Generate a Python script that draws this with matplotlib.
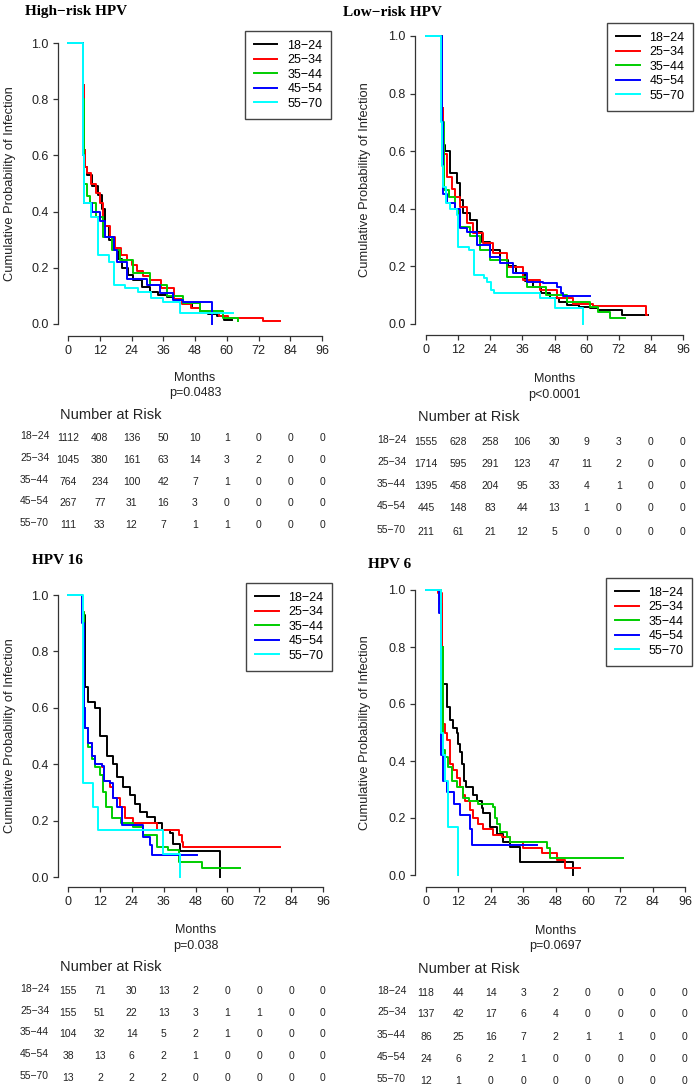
"""
    Kaplan-Meier curves of HPV infection by age group, 4 panels + number-at-risk tables
"""
import matplotlib
matplotlib.use('Agg')
import matplotlib.pyplot as plt
from matplotlib.transforms import blended_transform_factory

plt.rcParams['font.family'] = ['Liberation Sans', 'DejaVu Sans']

W, H = 700, 1086

groups = ['18\u221224', '25\u221234', '35\u221244', '45\u221254', '55\u221270']
colors = ['#000000', '#FF0000', '#00CD00', '#0000FF', '#00FFFF']
months = [0, 12, 24, 36, 48, 60, 72, 84, 96]
titles = ['High\u2212risk HPV', 'Low\u2212risk HPV', 'HPV 16', 'HPV 6']
pvals = ['p=0.0483', 'p<0.0001', 'p=0.038', 'p=0.0697']

# ---- High-risk HPV: step times / survival per age group
hr_times = [
    [0, 5.6, 6.0, 6.4, 7.0, 9.0, 11.5, 12.7, 14.0, 15.5, 17.2, 18.8, 20.3, 22.5, 24.7, 28, 31, 34, 37.3, 40,
     43.6, 47, 50, 53, 56.2, 59, 62],
    [0, 5.6, 6.0, 6.4, 7.0, 8.6, 10.5, 12.1, 13.4, 16, 17.8, 20, 22.2, 24, 26, 28.5, 31, 35, 40, 43, 46.6, 50,
     53, 57, 60.5, 73.7, 80],
    [0, 5.6, 6.2, 7.0, 8.3, 10.5, 13.4, 16.5, 19.5, 24.7, 31, 37.3, 43.6, 49.9, 58.7, 64.4],
    [0, 5.6, 6.2, 9.0, 12.1, 14.0, 17.2, 18.4, 22.2, 29.7, 34.7, 39.8, 43.6, 54.3],
    [0, 5.6, 6.2, 8.6, 11.3, 15.4, 17.3, 21.6, 26.5, 31.3, 36, 42.4, 62.4],
]
hr_surv = [
    [1, .85, .62, .56, .53, .49, .46, .41, .35, .30, .265, .23, .2, .175, .156, .13, .114, .104, .097, .085,
     .073, .058, .045, .035, .028, .016, .016],
    [1, .85, .62, .56, .536, .5, .465, .43, .35, .31, .27, .245, .228, .21, .19, .17, .156, .127, .09, .07, .056,
     .045, .038, .03, .022, .011, .011],
    [1, .8, .5, .455, .43, .38, .31, .265, .228, .18, .14, .1, .073, .045, .02, .01],
    [1, .6, .43, .4, .365, .31, .265, .22, .16, .14, .11, .087, .08, 0],
    [1, .6, .43, .38, .245, .22, .139, .128, .115, .093, .08, .04, .04],
]

# ---- Low-risk HPV
lr_times = [
    [0, 5.8, 6.3, 7.1, 8.9, 11.4, 12.7, 13.9, 16.4, 18.9, 21, 23.9, 27.6, 30.5, 33.8, 37, 40.1, 43, 46.3, 49.5,
     52.5, 57, 61.3, 64.4, 73.1, 82.8],
    [0, 5.8, 6.3, 7.7, 9.6, 10.8, 12.7, 15.2, 17.7, 21.4, 25.1, 30.1, 36.3, 42.5, 48.8, 55, 62.5, 82.3, 82.5],
    [0, 5.8, 6.8, 8.6, 11, 12.4, 16.5, 20.2, 23.9, 30.1, 37.6, 45, 52.5, 61.3, 64.4, 68.7, 74.5],
    [0, 5.8, 6.5, 7.7, 10.8, 12.7, 15.2, 18.9, 23.9, 27.6, 32.6, 37.6, 43.8, 48.8, 50.5, 51.3, 61.2],
    [0, 5.5, 6.0, 6.5, 7.5, 8.9, 11.4, 12.0, 16.0, 17.9, 21.6, 22.9, 24.1, 25.4, 42.6, 48.2, 58.5],
]
lr_surv = [
    [1, .75, .62, .6, .523, .488, .43, .385, .362, .32, .285, .257, .222, .2, .176, .15, .13, .108, .089, .075,
     .066, .06, .054, .048, .031, .031],
    [1, .75, .59, .51, .47, .44, .407, .35, .315, .28, .245, .199, .153, .118, .089, .07, .0625, .031, .031],
    [1, .7, .465, .442, .4, .338, .304, .257, .222, .164, .13, .1, .077, .06, .04, .02, .02],
    [1, .7, .45, .419, .4, .332, .32, .274, .234, .211, .176, .147, .141, .13, .106, .097, .097],
    [1, .7, .55, .477, .42, .40, .377, .268, .257, .17, .16, .147, .118, .107, .09, .054, 0],
]

# ---- HPV 16
h16_times = [
    [0, 5.4, 6.4, 7.7, 10.2, 12.1, 14.6, 17.1, 18.3, 20.8, 23.3, 25.2, 27.1, 29.6, 32.7, 35.2, 38.4, 39.5, 42.2,
     57.1],
    [0, 5.4, 6.0, 6.4, 7.7, 8.9, 10.2, 12.7, 13.4, 15.9, 17.1, 19.6, 21.5, 24.6, 33.4, 41.6, 42.8, 43.4, 79.8],
    [0, 5.4, 6.0, 6.4, 7.7, 8.9, 10.2, 11.9, 13.2, 14.2, 16.5, 20.0, 24.6, 28.3, 33.4, 37.8, 41.6, 50.3, 64.8],
    [0, 5.4, 6.0, 6.4, 7.7, 8.9, 10.2, 12.7, 13.4, 15.9, 17.1, 18.3, 20.2, 28.3, 31, 31.5, 48.4],
    [0, 5.8, 9.3, 11.4, 35.9, 42.2],
]
h16_surv = [
    [1, .93, .675, .622, .598, .5, .43, .4, .355, .32, .29, .26, .232, .214, .19, .167, .155, .116, .092, 0],
    [1, .94, .6, .53, .475, .43, .4, .39, .34, .32, .28, .25, .21, .19, .167, .149, .125, .105, .105],
    [1, .94, .6, .53, .46, .42, .39, .36, .3, .25, .21, .19, .178, .15, .107, .095, .054, .031, .031],
    [1, .9, .6, .53, .475, .43, .4, .393, .34, .334, .28, .25, .184, .143, .113, .078, .078],
    [1, .335, .25, .167, .083, 0],
]

# ---- HPV 6
h6_times = [
    [0, 5.2, 6.0, 6.4, 7.7, 8.9, 10.1, 11.4, 12.0, 12.7, 13.4, 14.0, 14.8, 17.5, 18.8, 20.7, 21.2, 23.7, 26.2,
     28.7, 31.1, 34.8, 54.6],
    [0, 4.6, 5.8, 6.4, 7.0, 7.7, 8.9, 10.1, 11.4, 12.7, 13.8, 14.6, 16.3, 17.5, 19.4, 21.2, 24.9, 28, 31.1, 36,
     42.9, 48.4, 51.5, 57],
    [0, 5.5, 6.4, 7.0, 8.2, 9.5, 11.4, 13.8, 16, 19.4, 24.9, 25.5, 26.2, 27.4, 29.9, 31.1, 44.7, 46, 73.1],
    [0, 5.0, 5.5, 6.4, 7.7, 10.5, 12.6, 16.3, 16.9, 41],
    [0, 5.5, 6.4, 7.2, 8.0, 8.3, 12.0],
]
h6_surv = [
    [1, .95, .8, .67, .59, .545, .515, .5, .46, .43, .39, .33, .31, .28, .26, .236, .216, .17, .145, .117, .1,
     .047, 0],
    [1, .99, .6, .53, .5, .474, .39, .37, .34, .31, .28, .26, .228, .2, .18, .16, .14, .134, .117, .094, .076,
     .053, .023, .023],
    [1, .8, .44, .415, .38, .33, .31, .27, .26, .25, .24, .2, .18, .15, .134, .117, .094, .058, .058],
    [1, .92, .42, .33, .29, .25, .21, .16, .105, .105],
    [1, .5, .42, .33, .25, .167, 0],
]

# ---- number at risk
hr_risk = [
    [1112, 408, 136, 50, 10, 1, 0, 0, 0],
    [1045, 380, 161, 63, 14, 3, 2, 0, 0],
    [764, 234, 100, 42, 7, 1, 0, 0, 0],
    [267, 77, 31, 16, 3, 0, 0, 0, 0],
    [111, 33, 12, 7, 1, 1, 0, 0, 0],
]
lr_risk = [
    [1555, 628, 258, 106, 30, 9, 3, 0, 0],
    [1714, 595, 291, 123, 47, 11, 2, 0, 0],
    [1395, 458, 204, 95, 33, 4, 1, 0, 0],
    [445, 148, 83, 44, 13, 1, 0, 0, 0],
    [211, 61, 21, 12, 5, 0, 0, 0, 0],
]
h16_risk = [
    [155, 71, 30, 13, 2, 0, 0, 0, 0],
    [155, 51, 22, 13, 3, 1, 1, 0, 0],
    [104, 32, 14, 5, 2, 1, 0, 0, 0],
    [38, 13, 6, 2, 1, 0, 0, 0, 0],
    [13, 2, 2, 2, 0, 0, 0, 0, 0],
]
h6_risk = [
    [118, 44, 14, 3, 2, 0, 0, 0, 0],
    [137, 42, 17, 6, 4, 0, 0, 0, 0],
    [86, 25, 16, 7, 2, 1, 1, 0, 0],
    [24, 6, 2, 1, 0, 0, 0, 0, 0],
    [12, 1, 0, 0, 0, 0, 0, 0, 0],
]


def fx(x):
    return x / W


def fy(y):
    return 1 - y / H


def draw_panel(fig, title, times, surv, risk, pval, geo):
    """
        geo: pixel layout of one panel (top-down pixel coords)
    """
    yax, x0, x96, y1, y0, xax = geo['axes']
    right = x96 + 12
    top = y1 - 8
    ax = fig.add_axes([fx(yax), fy(xax), fx(right - yax), (xax - top) / H])
    k = (x96 - x0) / 96
    m = y0 - y1
    ax.set_xlim((yax - x0) / k, (right - x0) / k)
    ax.set_ylim((y0 - xax) / m, (y0 - top) / m)

    for t, s, c, g in zip(times, surv, colors, groups):
        ax.step(t, s, where='post', color=c, lw=1.4, label=g, clip_on=False)

    for side in ['top', 'right']:
        ax.spines[side].set_visible(False)
    ax.spines['left'].set_bounds(0, 1)
    ax.spines['bottom'].set_bounds(0, 96)
    for side in ['left', 'bottom']:
        ax.spines[side].set_color('#333333')
        ax.spines[side].set_linewidth(0.9)
    ax.set_xticks(months)
    ax.set_yticks([0, 0.2, 0.4, 0.6, 0.8, 1.0])
    ax.set_yticklabels(['0.0', '0.2', '0.4', '0.6', '0.8', '1.0'])
    ax.tick_params(direction='out', length=3.6, width=0.9, labelsize=9, pad=3,
                   color='#333333', labelcolor='#222222')
    ax.patch.set_alpha(0)

    lx, ly = geo['legend']
    leg = ax.legend(loc='upper left', bbox_to_anchor=(fx(lx), fy(ly)), bbox_transform=fig.transFigure,
                    fancybox=False, edgecolor='#444444', framealpha=1, fontsize=9,
                    handlelength=1.9, handletextpad=0.8, labelspacing=0.2, borderpad=0.7, borderaxespad=0)
    leg.get_frame().set_linewidth(1.0)

    tx, ty = geo['title']
    fig.text(fx(tx), fy(ty), title, family='Liberation Serif', weight='bold', size=11,
             ha='left', va='center')

    fig.text(fx(geo['ylab']), fy((y1 + y0) / 2), 'Cumulative Probability of Infection',
             rotation=90, ha='center', va='center', size=9.3, color='#222222')

    my, py = geo['months']
    fig.text(fx((x0 + x96) / 2), fy(my), 'Months', ha='center', va='center', size=9, color='#222222')
    fig.text(fx((x0 + x96) / 2), fy(py), pval, ha='center', va='center', size=9, color='#222222')

    nx, ny = geo['nrisk']
    fig.text(fx(nx), fy(ny), 'Number at Risk', ha='left', va='center', size=10.5, color='#222222')

    tr = blended_transform_factory(ax.transData, fig.transFigure)
    for row, g, ry in zip(risk, groups, geo['rows']):
        fig.text(fx(geo['rowlab']), fy(ry - 2), g, ha='left', va='center', size=7.5, color='#222222')
        for mo, n in zip(months, row):
            fig.text(mo, fy(ry), str(n), transform=tr, ha='center', va='center', size=7.5, color='#222222')
    return ax


def main():
    """
        主函数
    """
    fig = plt.figure(figsize=(W / 100, H / 100), dpi=100)

    geos = [
        dict(axes=(58, 68, 322, 43, 324, 336), legend=(245, 31), title=(25, 12), ylab=10,
             months=(378, 393), nrisk=(60, 415), rowlab=20, rows=[438, 460, 482, 503, 525]),
        dict(axes=(415, 426, 683, 36, 324, 335), legend=(607, 23), title=(343, 12), ylab=365,
             months=(379, 395), nrisk=(418, 417), rowlab=377, rows=[442, 464, 486, 508, 532]),
        dict(axes=(58, 68, 323, 595, 877, 887), legend=(246, 583), title=(32, 560), ylab=10,
             months=(930, 946), nrisk=(60, 967), rowlab=20, rows=[991, 1013, 1034, 1056, 1078]),
        dict(axes=(415, 426, 685, 590, 875, 887), legend=(606, 578), title=(368, 564), ylab=365,
             months=(931, 946), nrisk=(418, 969), rowlab=377, rows=[993, 1014, 1037, 1059, 1081]),
    ]
    all_times = [hr_times, lr_times, h16_times, h6_times]
    all_surv = [hr_surv, lr_surv, h16_surv, h6_surv]
    all_risk = [hr_risk, lr_risk, h16_risk, h6_risk]

    for title, t, s, r, p, g in zip(titles, all_times, all_surv, all_risk, pvals, geos):
        draw_panel(fig, title, t, s, r, p, g)

    fig.savefig('out.png', dpi=100)


if __name__ == '__main__':
    main()
